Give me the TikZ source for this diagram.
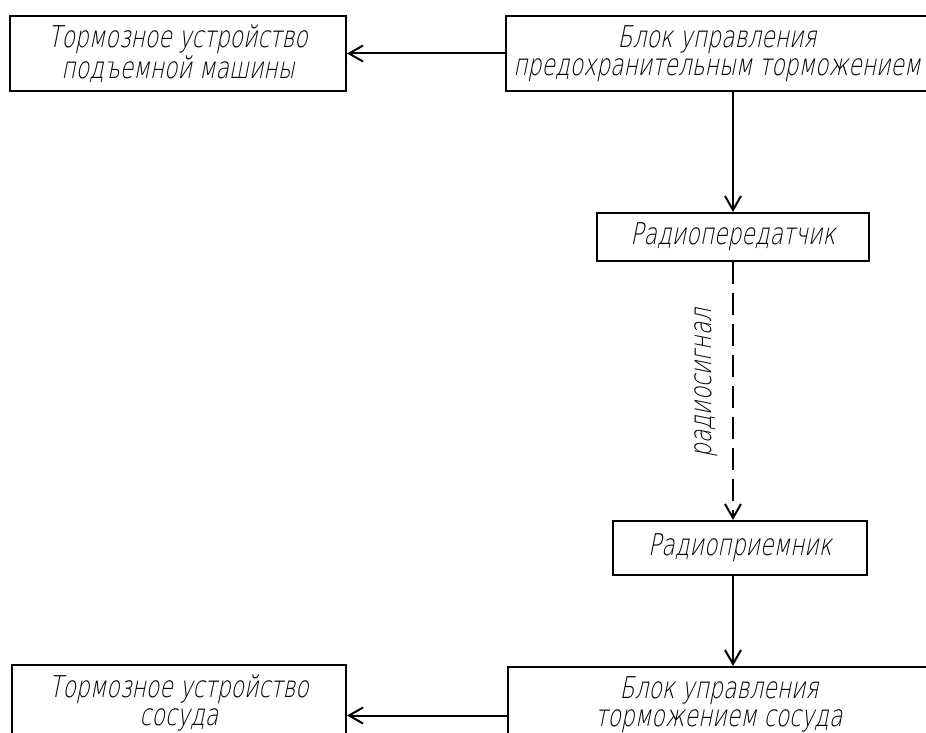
\documentclass[tikz,border=0pt]{standalone}
\usepackage{fontspec}
\setmainfont{DejaVu Sans ExtraLight}[FakeSlant=0.2,FakeStretch=0.73]
\usetikzlibrary{arrows.meta}

\begin{document}
\begin{tikzpicture}[x=0.5pt,y=-0.5pt,
    font=\fontsize{15}{14}\selectfont,
    block/.style={draw,line width=1pt,align=center,inner sep=0pt,
      minimum height=37.5pt},
    link/.style={line width=1pt,-{Straight Barb[length=7pt,width=8pt]}}]
    \clip (0,0) rectangle (926,733);
    \node[block,minimum width=168pt] (brakeHoist) at (178,53.5)
      {Тормозное устройство\\подъемной машины};
    \node[block,minimum width=211pt] (ctrlSafety) at (717,53.5)
      {Блок управления\\предохранительным торможением};
    \node[block,minimum width=136pt,minimum height=24pt] (transmitter) at (733,237)
      {Радиопередатчик};
    \node[block,minimum width=127pt,minimum height=27pt] (receiver) at (740,548)
      {Радиоприемник};
    \node[block,minimum width=211pt] (ctrlVessel) at (719,704.5)
      {Блок управления\\торможением сосуда};
    \node[block,minimum width=167pt] (brakeVessel) at (179,702.5)
      {Тормозное устройство\\сосуда};

    \draw[link] (ctrlSafety.west) -- (brakeHoist.east);
    \draw[link] (transmitter.north |- ctrlSafety.south) -- (transmitter.north);
    \draw[link,dash pattern=on 11pt off 4.5pt] (transmitter.south)
      -- (transmitter.south |- receiver.north)
      node[midway,rotate=90,anchor=south,inner sep=9pt,xshift=4pt,yshift=-2pt] {радиосигнал};
    \draw[link] (transmitter.south |- receiver.south) -- (transmitter.south |- ctrlVessel.north);
    \draw[link] ([yshift=-5.5pt]ctrlVessel.west) -- ([yshift=-5.5pt]ctrlVessel.west -| brakeVessel.east);
  \end{tikzpicture}
\end{document}
